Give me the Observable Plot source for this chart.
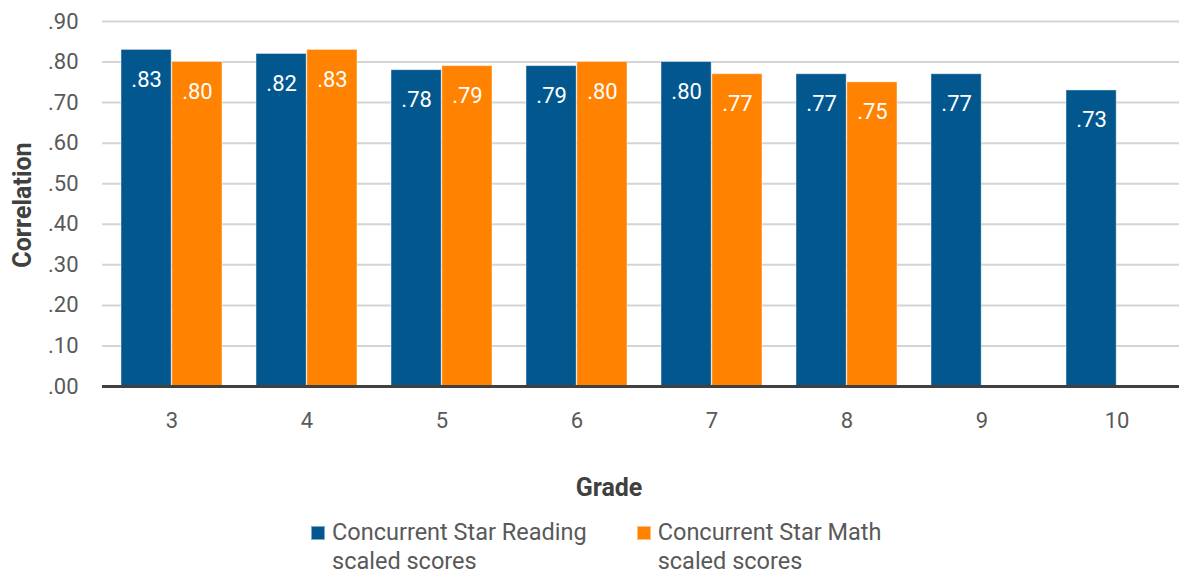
<!DOCTYPE html>
<html>
<head>
<meta charset="utf-8">
<script src="https://cdn.jsdelivr.net/npm/d3@7"></script>
<script src="https://cdn.jsdelivr.net/npm/@observablehq/plot@0.6"></script>
<style>
  html, body { margin: 0; padding: 0; background: #fff; }
  body { width: 1179px; height: 575px; position: relative; overflow: hidden; font-family: Roboto, sans-serif; }
  #legend { position: absolute; top: 518px; left: 311px; display: flex; gap: 50px; font-size: 23.5px; color: #595959; line-height: 29px; }
  .item { display: flex; align-items: flex-start; }
  .sw { width: 14px; height: 14px; margin-top: 8px; margin-right: 7px; box-sizing: border-box; border: 1px solid rgba(255,255,255,0.5); }
</style>
</head>
<body>
<div id="chart"></div>
<div id="legend"></div>
<script>
const grades = ["3", "4", "5", "6", "7", "8", "9", "10"];
const readingValues = [0.83, 0.82, 0.78, 0.79, 0.80, 0.77, 0.77, 0.73];
const mathValues = [0.80, 0.83, 0.79, 0.80, 0.77, 0.75, null, null];
const seriesNames = ["Concurrent Star Reading scaled scores", "Concurrent Star Math scaled scores"];
const seriesLegend = [["Concurrent Star Reading", "scaled scores"], ["Concurrent Star Math", "scaled scores"]];
const colors = ["#02578F", "#FF8200"];
const yTicks = [0, 0.1, 0.2, 0.3, 0.4, 0.5, 0.6, 0.7, 0.8, 0.9];
const xTitle = "Grade";
const yTitle = "Correlation";

const reading = grades.map((g, i) => ({grade: g, value: readingValues[i], series: seriesNames[0]}));
const math = grades.map((g, i) => ({grade: g, value: mathValues[i], series: seriesNames[1]})).filter(d => d.value != null);

const xRange = [102, 1186];
const padIn = 0.25, padOut = 0.125;
const step = (xRange[1] - xRange[0]) / (grades.length - padIn + 2 * padOut);
const bw = step * (1 - padIn);
const half = bw / 2;

const fmt = d => d3.format(".2f")(d).replace(/^0/, "");

const chart = Plot.plot({
  width: 1179,
  height: 500,
  marginLeft: 102,
  marginRight: 0,
  marginTop: 21,
  marginBottom: 114,
  style: {fontFamily: "Roboto, sans-serif", fontSize: "22px", color: "#595959", background: "white", overflow: "visible"},
  x: {type: "band", domain: grades, range: xRange, paddingInner: padIn, paddingOuter: padOut},
  y: {domain: [0, 0.9]},
  marks: [
    Plot.gridY(yTicks, {stroke: "#d4d4d4", strokeWidth: 2, strokeOpacity: 1}),
    Plot.barY(reading, {x: "grade", y: "value", fill: colors[0], insetRight: half, stroke: "white", strokeOpacity: 0.45, strokeWidth: 1}),
    Plot.barY(math, {x: "grade", y: "value", fill: colors[1], insetLeft: half, stroke: "white", strokeOpacity: 0.45, strokeWidth: 1}),
    Plot.text(reading, {x: "grade", y: "value", text: d => fmt(d.value), dx: -half / 2, dy: 30, fill: "white", fontSize: 22, lineAnchor: "middle"}),
    Plot.text(math, {x: "grade", y: "value", text: d => fmt(d.value), dx: half / 2, dy: 30, fill: "white", fontSize: 22, lineAnchor: "middle"}),
    Plot.ruleY([0], {stroke: "#404040", strokeWidth: 3}),
    Plot.axisY(yTicks, {tickSize: 0, tickPadding: 24, tickFormat: fmt, fill: "#595959", fontSize: 22, label: null}),
    Plot.axisX({tickSize: 0, tickPadding: 26, fill: "#595959", fontSize: 22, label: null}),
    Plot.text([xTitle], {frameAnchor: "bottom", text: d => d, dx: -32, dy: 101, lineAnchor: "middle", fontSize: 25, fontWeight: "bold", fill: "#404040"}),
    Plot.text([yTitle], {frameAnchor: "left", text: d => d, dx: -80, dy: 1, rotate: -90, lineAnchor: "middle", textAnchor: "middle", fontSize: 25, fontWeight: "bold", fill: "#404040"})
  ]
});
document.getElementById("chart").appendChild(chart);

const legend = document.getElementById("legend");
seriesLegend.forEach((lines, i) => {
  const item = document.createElement("div");
  item.className = "item";
  const sw = document.createElement("div");
  sw.className = "sw";
  sw.style.background = colors[i];
  const t = document.createElement("div");
  t.innerHTML = lines.join("<br>");
  item.appendChild(sw);
  item.appendChild(t);
  legend.appendChild(item);
});
</script>
</body>
</html>
